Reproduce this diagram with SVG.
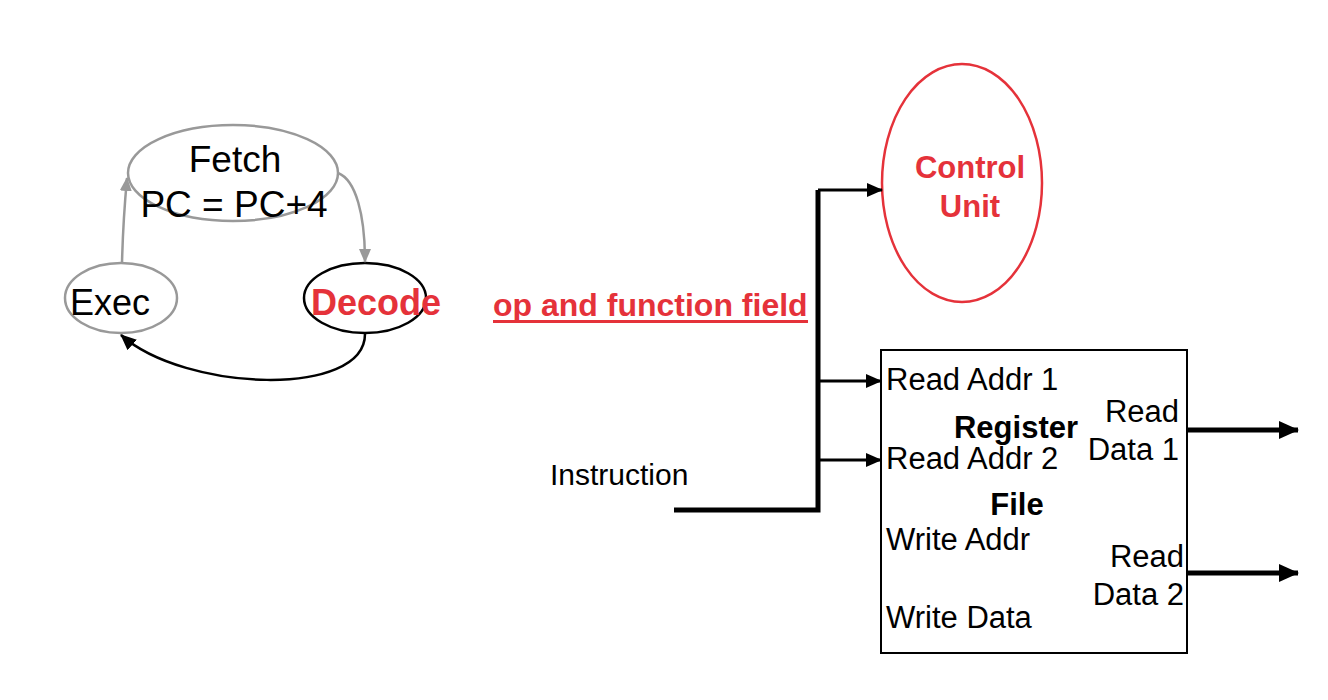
<svg xmlns="http://www.w3.org/2000/svg" width="1328" height="700" viewBox="0 0 1328 700">
<style>
text{font-family:"Liberation Sans",Arial,Helvetica,sans-serif;fill:#000}
.red{fill:#e5323a}
.b{font-weight:bold}
.lbl{font-size:31px}
.g{fill:none;stroke:#999;stroke-width:2.5}
.k{fill:none;stroke:#000;stroke-width:2.5}
.t{fill:none;stroke:#000;stroke-width:3}
</style>
<defs>
<marker id="ag" markerUnits="userSpaceOnUse" markerWidth="14" markerHeight="12" refX="13" refY="6" orient="auto"><path d="M0,0 L14,6 L0,12 Z" fill="#999"/></marker>
<marker id="ak" markerUnits="userSpaceOnUse" markerWidth="16" markerHeight="14" refX="15" refY="7" orient="auto"><path d="M0,0 L16,7 L0,14 Z" fill="#000"/></marker>
<marker id="ab" markerUnits="userSpaceOnUse" markerWidth="20" markerHeight="18" refX="19" refY="9" orient="auto"><path d="M0,0 L20,9 L0,18 Z" fill="#000"/></marker>
</defs>
<g id="fetch">
<ellipse cx="233" cy="173" rx="105" ry="48" class="g"/>
<text x="235" y="172" font-size="37" text-anchor="middle">Fetch</text>
<text x="234" y="217" font-size="37" text-anchor="middle">PC = PC+4</text>
</g>
<g id="exec">
<ellipse cx="121" cy="298" rx="56" ry="35" class="g"/>
<text x="70" y="315" font-size="36">Exec</text>
</g>
<g id="decode">
<ellipse cx="365" cy="298" rx="61" ry="35" class="k"/>
<text x="311" y="315" font-size="36" class="red b">Decode</text>
</g>
<g id="control-unit">
<ellipse cx="962" cy="183" rx="80" ry="119" fill="none" stroke="#e5323a" stroke-width="2.5"/>
<text x="970" y="178" font-size="31" class="red b" text-anchor="middle">Control</text>
<text x="970" y="217" font-size="31" class="red b" text-anchor="middle">Unit</text>
</g>
<g id="register-file">
<rect x="881" y="350" width="306" height="303" fill="none" stroke="#000" stroke-width="2"/>
<text x="886" y="390" class="lbl">Read Addr 1</text>
<text x="886" y="469" class="lbl">Read Addr 2</text>
<text x="1016" y="438" class="lbl b" text-anchor="middle">Register</text>
<text x="1017" y="515" class="lbl b" text-anchor="middle">File</text>
<text x="1179" y="422" class="lbl" text-anchor="end">Read</text>
<text x="1179" y="460" class="lbl" text-anchor="end">Data 1</text>
<text x="886" y="550" class="lbl">Write Addr</text>
<text x="1184" y="567" class="lbl" text-anchor="end">Read</text>
<text x="1184" y="605" class="lbl" text-anchor="end">Data 2</text>
<text x="886" y="628" class="lbl">Write Data</text>
</g>
<g id="labels">
<text x="493" y="316" font-size="32" class="red b">op and function field</text>
<rect x="493" y="320" width="315" height="3" fill="#e5323a"/>
<text x="550" y="485" font-size="30">Instruction</text>
</g>
<g id="connectors">
<path d="M122,263 Q123,222 127,178" class="g" marker-end="url(#ag)"/>
<path d="M338,173 C356,180 365,215 365,262" class="g" marker-end="url(#ag)"/>
<path d="M365,334 C365,398 185,392 121,335" class="k" marker-end="url(#ak)"/>
<path d="M674,510 L818,510 L818,190" fill="none" stroke="#000" stroke-width="5"/>
<path d="M818,190 L882,190" class="t" marker-end="url(#ak)"/>
<path d="M818,381 L881,381" class="t" marker-end="url(#ak)"/>
<path d="M818,460 L881,460" class="t" marker-end="url(#ak)"/>
<path d="M1187,430 L1298,430" fill="none" stroke="#000" stroke-width="5" marker-end="url(#ab)"/>
<path d="M1187,573 L1298,573" fill="none" stroke="#000" stroke-width="5" marker-end="url(#ab)"/>
</g>
</svg>
